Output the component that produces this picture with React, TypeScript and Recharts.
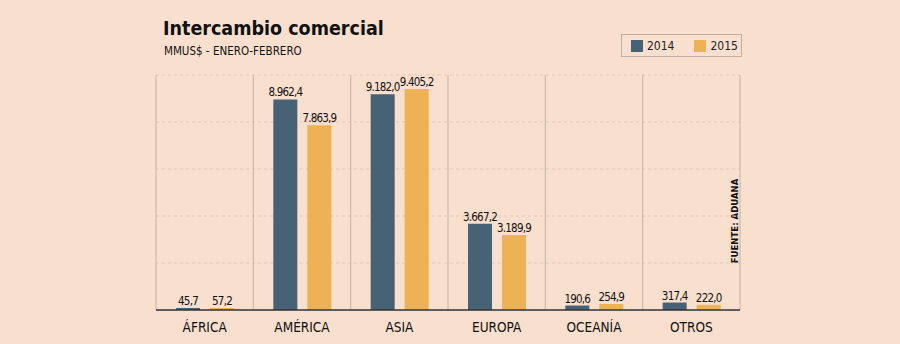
import React from 'react';
import { BarChart, Bar, XAxis, YAxis, CartesianGrid, ReferenceLine, LabelList } from 'recharts';

const categories = ['ÁFRICA', 'AMÉRICA', 'ASIA', 'EUROPA', 'OCEANÍA', 'OTROS'];
const values2014 = [45.7, 8962.4, 9182.0, 3667.2, 190.6, 317.4];
const values2015 = [57.2, 7863.9, 9405.2, 3189.9, 254.9, 222.0];
const yTicks = [0, 2000, 4000, 6000, 8000, 10000];
const separators = [0, 1, 2, 3, 4, 5, 6];
const seriesNames = ['2014', '2015'];

const data = categories.map((c, i) => ({ name: c, y2014: values2014[i], y2015: values2015[i], pos: i + 0.5 }));

const BG = '#F8DFCE';
const C14 = '#476175';
const C15 = '#EDB255';
const seriesColors = [C14, C15];
const FONT = '"DejaVu Sans Condensed", "DejaVu Sans", sans-serif';

function fmt(v: number): string {
  const s = v.toFixed(1);
  const [int, dec] = s.split('.');
  const grouped = int.replace(/\B(?=(\d{3})+(?!\d))/g, '.');
  return grouped + ',' + dec;
}

const labelStyle = { fill: '#111', fontSize: 11.5, fontFamily: FONT, letterSpacing: -0.8 };

const LegendBox = () => (
  <div style={{ position: 'absolute', left: 621, top: 34, display: 'flex', alignItems: 'center', height: 23, border: '1px solid #BFAFA3', boxSizing: 'border-box', width: 121, paddingLeft: 9, fontFamily: FONT, fontSize: 12, color: '#222' }}>
    {seriesNames.map((n, i) => (
      <div key={n} style={{ display: 'flex', alignItems: 'center', marginRight: i === 0 ? 20 : 0 }}>
        <div style={{ width: 12, height: 12, background: seriesColors[i], marginRight: 4 }} />
        <span>{n}</span>
      </div>
    ))}
  </div>
);

export default function App() {
  return (
    <div style={{ position: 'absolute', left: 0, top: 0, width: 900, height: 344, background: BG, overflow: 'hidden' }}>
      <div style={{ position: 'absolute', left: 163, top: 17, fontFamily: FONT, fontWeight: 'bold', fontSize: 19.5, color: '#111', lineHeight: '24px' }}>
        Intercambio comercial
      </div>
      <div style={{ position: 'absolute', left: 164, top: 44, fontFamily: FONT, fontSize: 11.5, color: '#111', lineHeight: '14px' }}>
        MMUS$ - ENERO-FEBRERO
      </div>
      <div style={{ position: 'absolute', left: 734, top: 221, transform: 'translate(-50%, -50%) rotate(-90deg)', fontFamily: FONT, fontWeight: 'bold', fontSize: 9.5, color: '#111', whiteSpace: 'nowrap' }}>
        FUENTE: ADUANA
      </div>
      <LegendBox />
      <BarChart width={900} height={344} data={data} margin={{ top: 75, left: 156, right: 160, bottom: 4 }} barSize={24} barGap={10} style={{ position: 'absolute', left: 0, top: 0 }}>
        <CartesianGrid vertical={false} strokeDasharray="3 3" stroke="#E6C6B2" />
        <XAxis dataKey="name" height={30} axisLine={{ stroke: '#333', strokeWidth: 1.5 }} tickLine={false} tick={{ fill: '#111', fontSize: 13.5, fontFamily: FONT }} tickMargin={6} />
        <XAxis xAxisId="sep" type="number" dataKey="pos" domain={[0, 6]} hide />
        <YAxis hide domain={[0, 10000]} ticks={yTicks} />
        {separators.map((s) => (
          <ReferenceLine key={s} xAxisId="sep" x={s} stroke="#C4B2A6" strokeWidth={1} />
        ))}
        <Bar dataKey="y2014" name={seriesNames[0]} fill={C14} isAnimationActive={false} minPointSize={2}>
          <LabelList dataKey="y2014" position="top" offset={3} formatter={(v: any) => fmt(Number(v))} style={labelStyle} />
        </Bar>
        <Bar dataKey="y2015" name={seriesNames[1]} fill={C15} isAnimationActive={false} minPointSize={2}>
          <LabelList dataKey="y2015" position="top" offset={3} formatter={(v: any) => fmt(Number(v))} style={labelStyle} />
        </Bar>
      </BarChart>
    </div>
  );
}
